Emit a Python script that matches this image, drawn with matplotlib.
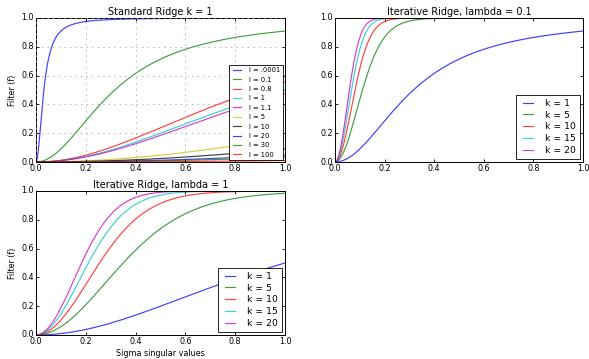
import numpy as np
import matplotlib
matplotlib.use('Agg')
import matplotlib.pyplot as plt

plt.style.use('classic')
plt.rcParams['font.family'] = ['DejaVu Sans']

# legend values
ridge_labels = ['l = .0001', 'l = 0.1', 'l = 0.8', 'l = 1', 'l = 1.1',
                'l = 5', 'l = 10', 'l = 20', 'l = 30', 'l = 100']
# the first curve reaches ~0.66 at sigma 0.044, which fits lambda = 0.001
ridge_lambdas = [0.001, 0.1, 0.8, 1, 1.1, 5, 10, 20, 30, 100]
iter_ks = [1, 5, 10, 15, 20]
# effective number of iterations
iter_steps = [1, 6, 11, 16, 21]
iter_lambda_top = 0.1
iter_lambda_bottom = 1.0

colors = ['b', 'g', 'r', 'c', 'm', 'y', 'k']
sigma = np.linspace(0, 1, 400)

def ridge_filter(s, lam, k=1):
    # iterated Tikhonov filter factor
    return 1 - (lam / (s ** 2 + lam)) ** k

fig = plt.figure(figsize=(5.89, 3.59), dpi=100, facecolor='white')
ax1 = fig.add_axes([0.0611, 0.5487, 0.4228, 0.4012])
ax2 = fig.add_axes([0.5688, 0.5487, 0.4210, 0.4012])
ax3 = fig.add_axes([0.0611, 0.0669, 0.4228, 0.4011])

lw = 0.85
for i, (lab, lam) in enumerate(zip(ridge_labels, ridge_lambdas)):
    ax1.plot(sigma, ridge_filter(sigma, lam), color=colors[i % 7], lw=lw, alpha=0.75, label=lab)
for i, (k, n) in enumerate(zip(iter_ks, iter_steps)):
    ax2.plot(sigma, ridge_filter(sigma, iter_lambda_top, n), color=colors[i], lw=lw, alpha=0.75, label='k = %d' % k)
    ax3.plot(sigma, ridge_filter(sigma, iter_lambda_bottom, n), color=colors[i], lw=lw, alpha=0.75, label='k = %d' % k)

ax1.set_title('Standard Ridge k = 1', fontsize=7, pad=2)
ax2.set_title('Iterative Ridge, lambda = 0.1', fontsize=7, pad=2)
ax3.set_title('Iterative Ridge, lambda = 1', fontsize=7, pad=2)
ax1.grid(True, color='0.65', linestyle=':', lw=0.6)
ax1.set_ylabel('Filter (f)', fontsize=5.8, labelpad=3)
ax3.set_ylabel('Filter (f)', fontsize=5.8, labelpad=3)
ax3.set_xlabel('Sigma singular values', fontsize=5.8, labelpad=2)

for ax in (ax1, ax2, ax3):
    ax.set_xlim(0, 1)
    ax.set_ylim(0, 1)
    ax.set_xticks(np.arange(0, 1.01, 0.2))
    ax.set_yticks(np.arange(0, 1.01, 0.2))
    ax.tick_params(labelsize=5.8, length=2.3, width=0.6, pad=1.5)
    for sp in ax.spines.values():
        sp.set_linewidth(0.7)

ax1.legend(loc='lower right', fontsize=4.85, borderaxespad=0.25, handlelength=1.8,
           handletextpad=0.9, labelspacing=0.5, frameon=True).get_frame().set_linewidth(0.6)
for ax in (ax2, ax3):
    ax.legend(loc='lower right', fontsize=6.7, borderaxespad=0.35, handlelength=1.7,
              handletextpad=1.0, labelspacing=0.3).get_frame().set_linewidth(0.6)

fig.savefig('out.png', dpi=100, facecolor='white')
